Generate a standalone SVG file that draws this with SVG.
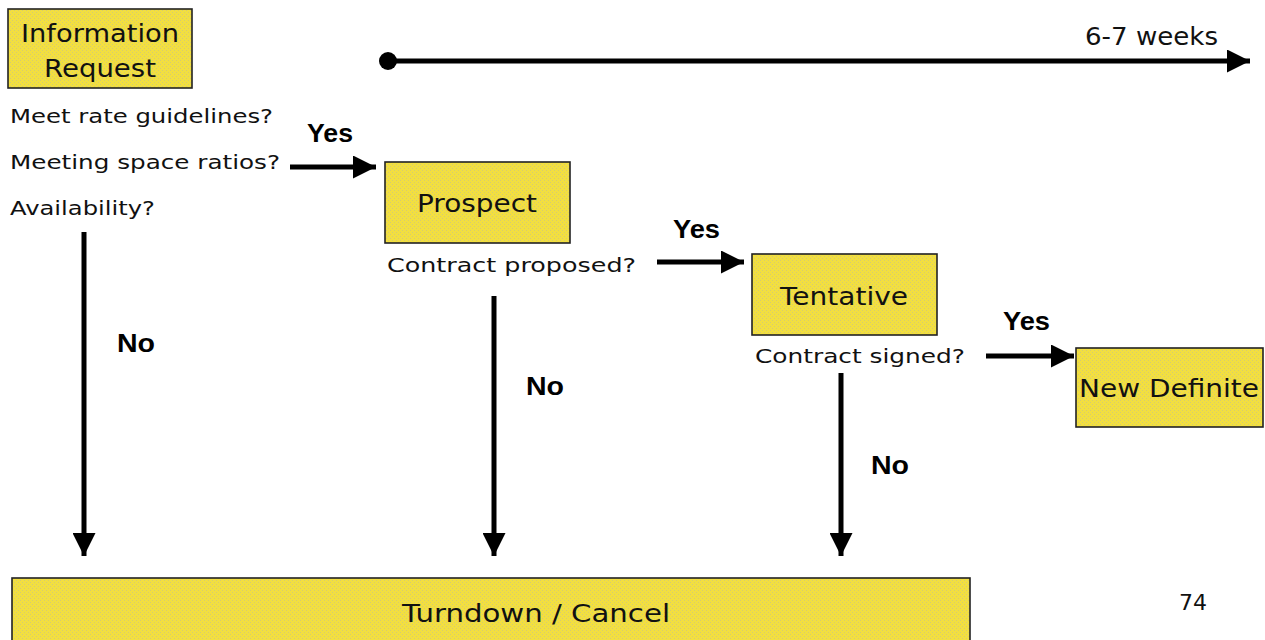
<svg xmlns="http://www.w3.org/2000/svg" width="1265" height="640" viewBox="0 0 1265 640">
<defs>
<marker id="ah" viewBox="0 0 10 10" refX="10" refY="5" markerWidth="4.6" markerHeight="4.6" markerUnits="strokeWidth" orient="auto">
<path d="M0,0 L10,5 L0,10 Z" fill="#000"/>
</marker>
<pattern id="tex" width="4" height="4" patternUnits="userSpaceOnUse">
<rect width="4" height="4" fill="#F2DF40"/>
<rect x="0" y="0" width="1" height="1" fill="#D6CA72"/>
<rect x="2" y="2" width="1" height="1" fill="#D6CA72"/>
</pattern>
</defs>
<style>
.box{fill:url(#tex);stroke:#222;stroke-width:1.6}
.t{font-family:"DejaVu Sans","Liberation Sans",sans-serif;fill:#111}
.big{font-size:25px}
.q{font-size:19px}
.b{font-family:"Liberation Sans","DejaVu Sans",sans-serif;font-weight:bold;font-size:25px;fill:#000}
.c{stroke:#000;stroke-width:5;fill:none}
</style>
<rect width="1265" height="640" fill="#fff"/>

<g id="timeline">
<circle cx="388" cy="61" r="9" fill="#000"/>
<line class="c" x1="388" y1="61" x2="1250" y2="61" marker-end="url(#ah)"/>
<text class="t" x="1218" y="45" font-size="24" text-anchor="end" textLength="133" lengthAdjust="spacingAndGlyphs">6-7 weeks</text>
</g>

<g id="info-request">
<rect class="box" x="8" y="9" width="184" height="79"/>
<text class="t big" x="100" y="42" text-anchor="middle" textLength="158" lengthAdjust="spacingAndGlyphs">Information</text>
<text class="t big" x="100" y="77" text-anchor="middle" textLength="112" lengthAdjust="spacingAndGlyphs">Request</text>
<text class="t q" x="10" y="123" textLength="263" lengthAdjust="spacingAndGlyphs">Meet rate guidelines?</text>
<text class="t q" x="10" y="169" textLength="270" lengthAdjust="spacingAndGlyphs">Meeting space ratios?</text>
<text class="t q" x="10" y="215" textLength="145" lengthAdjust="spacingAndGlyphs">Availability?</text>
</g>

<g id="prospect">
<rect class="box" x="385" y="162" width="185" height="81"/>
<text class="t big" x="477" y="212" text-anchor="middle" textLength="120" lengthAdjust="spacingAndGlyphs">Prospect</text>
<text class="t q" x="387" y="272" textLength="249" lengthAdjust="spacingAndGlyphs">Contract proposed?</text>
</g>

<g id="tentative">
<rect class="box" x="752" y="254" width="185" height="81"/>
<text class="t big" x="844" y="305" text-anchor="middle" textLength="128" lengthAdjust="spacingAndGlyphs">Tentative</text>
<text class="t q" x="755" y="363" textLength="210" lengthAdjust="spacingAndGlyphs">Contract signed?</text>
</g>

<g id="new-definite">
<rect class="box" x="1076" y="348" width="187" height="79"/>
<text class="t big" x="1169" y="397" text-anchor="middle" textLength="180" lengthAdjust="spacingAndGlyphs">New Definite</text>
</g>

<g id="turndown">
<rect class="box" x="12" y="578" width="958" height="70"/>
<text class="t big" x="536" y="622" text-anchor="middle" textLength="268" lengthAdjust="spacingAndGlyphs">Turndown / Cancel</text>
</g>

<g id="page-number">
<text class="t" x="1193" y="610" font-size="22" text-anchor="middle">74</text>
</g>

<g id="connectors">
<line class="c" x1="290" y1="167" x2="376" y2="167" marker-end="url(#ah)"/>
<text class="b" x="307" y="142" textLength="46" lengthAdjust="spacingAndGlyphs">Yes</text>
<line class="c" x1="657" y1="262" x2="744" y2="262" marker-end="url(#ah)"/>
<text class="b" x="673" y="238" textLength="47" lengthAdjust="spacingAndGlyphs">Yes</text>
<line class="c" x1="986" y1="356" x2="1074" y2="356" marker-end="url(#ah)"/>
<text class="b" x="1003" y="330" textLength="47" lengthAdjust="spacingAndGlyphs">Yes</text>
<line class="c" x1="84" y1="232" x2="84" y2="556" marker-end="url(#ah)"/>
<text class="b" x="117" y="352" textLength="38" lengthAdjust="spacingAndGlyphs">No</text>
<line class="c" x1="494" y1="296" x2="494" y2="556" marker-end="url(#ah)"/>
<text class="b" x="526" y="395" textLength="38" lengthAdjust="spacingAndGlyphs">No</text>
<line class="c" x1="841" y1="373" x2="841" y2="556" marker-end="url(#ah)"/>
<text class="b" x="871" y="474" textLength="38" lengthAdjust="spacingAndGlyphs">No</text>
</g>
</svg>
